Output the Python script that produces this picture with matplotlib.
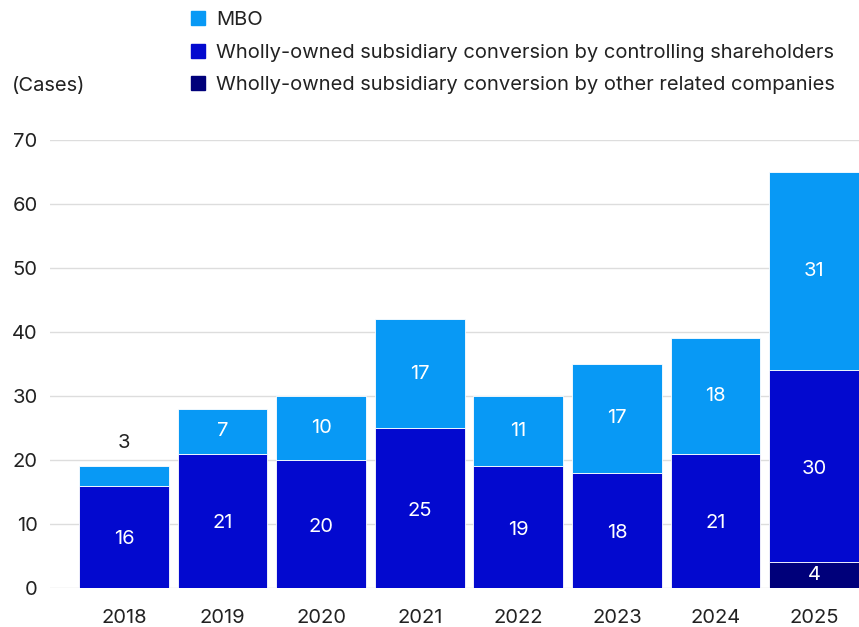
import numpy as np
import matplotlib.pyplot as plt
from matplotlib.patches import Patch

years = ['2018', '2019', '2020', '2021', '2022', '2023', '2024', '2025']
other_related = [0, 0, 0, 0, 0, 0, 0, 4]
controlling = [16, 21, 20, 25, 19, 18, 21, 30]
mbo = [3, 7, 10, 17, 11, 17, 18, 31]

c_mbo = '#0899f5'
c_ctrl = '#0309cf'
c_other = '#00007a'

plt.rcParams['font.family'] = ['Inter', 'DejaVu Sans']

fig = plt.figure(figsize=(8.59, 6.27), dpi=100)
ax = fig.add_axes([50 / 859, 1 - 588 / 627, 809 / 859, 448 / 627])

x = np.arange(len(years))
w = 0.91
other = np.array(other_related)
ctrl = np.array(controlling)
mb = np.array(mbo)

ax.bar(x, other, w, color=c_other, edgecolor='white', linewidth=0.6, zorder=3)
ax.bar(x, ctrl, w, bottom=other, color=c_ctrl, edgecolor='white', linewidth=0.6, zorder=3)
ax.bar(x, mb, w, bottom=other + ctrl, color=c_mbo, edgecolor='white', linewidth=0.6, zorder=3)

fs = 14.5
# labels
for i in range(len(years)):
    if other[i] > 0:
        ax.text(x[i], other[i] / 2, str(other[i]), ha='center', va='center',
                color='white', fontsize=fs, zorder=4)
    ax.text(x[i], other[i] + ctrl[i] / 2 - 0.4, str(ctrl[i]), ha='center', va='center',
            color='white', fontsize=fs, zorder=4)
    if mb[i] < 5:
        ax.text(x[i], other[i] + ctrl[i] + mb[i] + 3.6, str(mb[i]), ha='center',
                va='center', color='#222222', fontsize=fs, zorder=4)
    else:
        ax.text(x[i], other[i] + ctrl[i] + mb[i] / 2, str(mb[i]), ha='center',
                va='center', color='white', fontsize=fs, zorder=4)

ax.set_xlim(-0.75, 7.455)
ax.set_ylim(0, 70)
ax.set_yticks(range(0, 71, 10))
ax.set_xticks(x)
ax.set_xticklabels(years)
ax.grid(axis='y', color='#dddddd', linewidth=1, zorder=0)
for s in ax.spines.values():
    s.set_visible(False)
ax.tick_params(axis='both', length=0, labelsize=fs, colors='#222222')
ax.tick_params(axis='y', pad=9)
ax.tick_params(axis='x', pad=15)

fig.text(12 / 859, 1 - 86 / 627, '(Cases)', fontsize=fs, color='#222222',
         ha='left', va='center')

handles = [Patch(color=c_mbo), Patch(color=c_ctrl), Patch(color=c_other)]
labels = ['MBO',
          'Wholly-owned subsidiary conversion by controlling shareholders',
          'Wholly-owned subsidiary conversion by other related companies']
fig.legend(handles, labels, loc='upper left', bbox_to_anchor=(191 / 859, 1 - 11 / 627),
           frameon=False, fontsize=fs, handlelength=0.7, handleheight=0.7,
           handletextpad=0.55, labelspacing=0.72, labelcolor='#222222',
           borderaxespad=0, borderpad=0)

fig.savefig('out.png', dpi=100)
